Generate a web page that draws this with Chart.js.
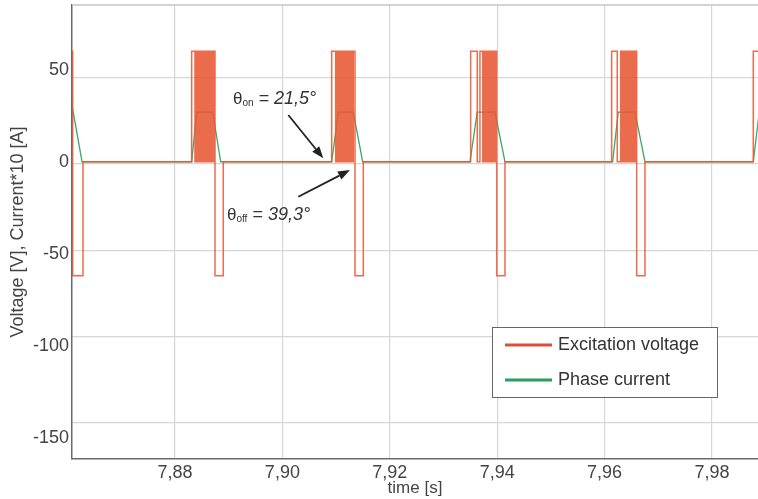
<!DOCTYPE html>
<html>
<head>
<meta charset="utf-8">
<script src="https://cdn.jsdelivr.net/npm/chart.js@4/dist/chart.umd.min.js"></script>
<style>
  html, body { margin: 0; padding: 0; background: #fff; }
  #wrap { width: 758px; height: 499px; }
</style>
</head>
<body>
<div id="wrap"><canvas id="waveChart" width="758" height="499"></canvas></div>
<script>
// axis ranges and ticks
const xMin = 7.86082, xMax = 7.98857;
const yMin = -171, yMax = 92.2;
const xTicks = [7.88, 7.90, 7.92, 7.94, 7.96, 7.98];
const yTicks = [50, 0, -50, -100, -150];

// excitation voltage [V]: levels and switching instants [s]
const vHigh = 60, vLow = -62;
const pulseStart = [7.8600, 7.88311, 7.90918, 7.93506, 7.96132, 7.98769];
const chopTimes = [
    [],
    [7.88372, 7.88386, 7.88399, 7.88415, 7.88428, 7.88443, 7.88457, 7.88470, 7.88486, 7.88499,
     7.88514, 7.88527, 7.88543, 7.88556, 7.88571, 7.88584, 7.88600, 7.88613, 7.88628, 7.88641,
     7.88657, 7.88670, 7.88686, 7.88699, 7.88713, 7.88722],
    [7.90993, 7.91006, 7.91020, 7.91033, 7.91047, 7.91061, 7.91074, 7.91089, 7.91102, 7.91116,
     7.91130, 7.91143, 7.91158, 7.91171, 7.91185, 7.91199, 7.91212, 7.91226, 7.91240, 7.91265,
     7.91279, 7.91292, 7.91306, 7.91320],
    [7.93629, 7.93679, 7.93730, 7.93754, 7.93767, 7.93781, 7.93794, 7.93808, 7.93822, 7.93835,
     7.93849, 7.93862, 7.93876, 7.93890, 7.93903, 7.93917, 7.93930, 7.93944, 7.93958, 7.93971,
     7.93979, 7.93986],
    [7.96236, 7.96300, 7.96318, 7.96331, 7.96345, 7.96358, 7.96372, 7.96386, 7.96399, 7.96413,
     7.96426, 7.96440, 7.96454, 7.96467, 7.96481, 7.96494, 7.96508, 7.96522, 7.96535, 7.96549,
     7.96562, 7.96576, 7.96589, 7.96596],
    []
];
const demagStart = [7.86095, 7.88745, 7.91352, 7.93991, 7.96598];
const demagEnd = [7.86287, 7.88899, 7.91507, 7.94145, 7.96752];

// phase current * 10 [A]
const currentTime = [7.86080, 7.86269,
    7.88311, 7.88404, 7.88702, 7.88851,
    7.90918, 7.91041, 7.91320, 7.91495,
    7.93493, 7.93629, 7.93959, 7.94145,
    7.96150, 7.96255, 7.96566, 7.96752,
    7.98769, 7.98880];
const currentValue = [31, 0,
    0, 27, 27, 0,
    0, 27, 27, 0,
    0, 27, 27, 0,
    0, 27, 27, 0,
    0, 27];

const seriesNames = ['Excitation voltage', 'Phase current'];
const seriesColors = ['rgba(232, 88, 52, 0.88)', 'rgb(62, 168, 104)'];

// build step points for the voltage
const voltagePoints = [];
pulseStart.forEach((t0, i) => {
    voltagePoints.push({ x: t0, y: vHigh });
    chopTimes[i].forEach((t, k) => voltagePoints.push({ x: t, y: k % 2 === 0 ? 0 : vHigh }));
    if (i < demagStart.length) {
        voltagePoints.push({ x: demagStart[i], y: vLow });
        voltagePoints.push({ x: demagEnd[i], y: 0 });
    }
});
voltagePoints.push({ x: xMax + 0.001, y: vHigh });

const currentPoints = currentTime.map((t, i) => ({ x: t, y: currentValue[i] }));

const fontFamily = '"Liberation Sans", Arial, Helvetica, sans-serif';
const textColor = '#444';
const gridColor = '#d6d6d6';

// annotations: angle labels and arrows (data coordinates)
const notes = [
    { sub: 'on', value: ' = 21,5°', x: 7.89080, y: 37.7, from: [7.90110, 28.4], to: [7.90762, 3.3] },
    { sub: 'off', value: ' = 39,3°', x: 7.88968, y: -29.6, from: [7.90296, -19.0], to: [7.91259, -3.5] }
];

function noPad(s) {
    s.paddingTop = 0;
    s.paddingBottom = 0;
    s.paddingLeft = 0;
    s.paddingRight = 0;
}

const decorPlugin = {
    id: 'decor',
    beforeDatasetsDraw(chart) {
        const { ctx, chartArea } = chart;
        ctx.save();
        ctx.strokeStyle = '#c4c4c4';
        ctx.lineWidth = 1.5;
        ctx.beginPath();
        ctx.moveTo(chartArea.left, chartArea.top);
        ctx.lineTo(chartArea.right, chartArea.top);
        ctx.stroke();
        ctx.restore();
    },
    afterDraw(chart) {
        const { ctx } = chart;
        const xs = chart.scales.x, ys = chart.scales.y;
        ctx.save();
        // arrows and angle texts
        notes.forEach(n => {
            const x1 = xs.getPixelForValue(n.from[0]), y1 = ys.getPixelForValue(n.from[1]);
            const x2 = xs.getPixelForValue(n.to[0]), y2 = ys.getPixelForValue(n.to[1]);
            const ang = Math.atan2(y2 - y1, x2 - x1);
            const head = 12, half = 4.5;
            ctx.strokeStyle = '#222';
            ctx.fillStyle = '#222';
            ctx.lineWidth = 1.8;
            ctx.beginPath();
            ctx.moveTo(x1, y1);
            ctx.lineTo(x2 - Math.cos(ang) * head, y2 - Math.sin(ang) * head);
            ctx.stroke();
            ctx.beginPath();
            ctx.moveTo(x2, y2);
            ctx.lineTo(x2 - Math.cos(ang) * head - Math.sin(ang) * half, y2 - Math.sin(ang) * head + Math.cos(ang) * half);
            ctx.lineTo(x2 - Math.cos(ang) * head + Math.sin(ang) * half, y2 - Math.sin(ang) * head - Math.cos(ang) * half);
            ctx.closePath();
            ctx.fill();

            let tx = xs.getPixelForValue(n.x);
            const ty = ys.getPixelForValue(n.y);
            ctx.fillStyle = '#333';
            ctx.textBaseline = 'middle';
            ctx.textAlign = 'left';
            ctx.font = '17px ' + fontFamily;
            ctx.fillText('θ', tx, ty);
            tx += ctx.measureText('θ').width;
            ctx.font = '10px ' + fontFamily;
            ctx.fillText(n.sub, tx, ty + 4);
            tx += ctx.measureText(n.sub).width;
            ctx.font = 'italic 18px ' + fontFamily;
            ctx.fillText(n.value, tx, ty);
        });

        // legend box
        const bx = 492, by = 327, bw = 225, bh = 70;
        ctx.fillStyle = '#fff';
        ctx.fillRect(bx, by, bw, bh);
        ctx.strokeStyle = '#666';
        ctx.lineWidth = 1;
        ctx.strokeRect(bx + 0.5, by + 0.5, bw, bh);
        const legendColors = ['#d9513a', '#2a9d5c'];
        seriesNames.forEach((name, i) => {
            const ly = by + 18 + i * 35;
            ctx.strokeStyle = legendColors[i];
            ctx.lineWidth = 3;
            ctx.beginPath();
            ctx.moveTo(bx + 13, ly);
            ctx.lineTo(bx + 60, ly);
            ctx.stroke();
            ctx.fillStyle = '#333';
            ctx.font = '18px ' + fontFamily;
            ctx.textBaseline = 'middle';
            ctx.fillText(name, bx + 66, ly);
        });
        ctx.restore();
    }
};

const ctx = document.getElementById('waveChart').getContext('2d');
new Chart(ctx, {
    type: 'line',
    data: {
        datasets: [{
            label: seriesNames[0],
            data: voltagePoints,
            borderColor: seriesColors[0],
            borderWidth: 1.5,
            stepped: 'before',
            pointRadius: 0,
            fill: false,
            order: 1
        }, {
            label: seriesNames[1],
            data: currentPoints,
            borderColor: seriesColors[1],
            borderWidth: 1.3,
            tension: 0,
            pointRadius: 0,
            fill: false,
            order: 2
        }]
    },
    options: {
        responsive: false,
        animation: false,
        layout: { padding: { top: 5, left: 0, right: 0, bottom: 0 } },
        plugins: {
            legend: { display: false },
            tooltip: { enabled: false }
        },
        scales: {
            x: {
                type: 'linear',
                min: xMin,
                max: xMax,
                afterBuildTicks: s => { s.ticks = xTicks.map(v => ({ value: v })); },
                afterFit: s => { s.height = 40; noPad(s); },
                grid: { color: gridColor, lineWidth: 1.2, drawTicks: false },
                border: { color: '#6a6a6a', width: 1.5 },
                ticks: {
                    padding: 3,
                    color: textColor,
                    autoSkip: false,
                    maxRotation: 0,
                    font: { size: 18, family: fontFamily },
                    callback: v => v.toFixed(2).replace('.', ',')
                },
                title: {
                    display: true,
                    text: 'time [s]',
                    color: textColor,
                    padding: { top: 0, bottom: 0 },
                    font: { size: 17, family: fontFamily }
                }
            },
            yLabels: {
                position: 'left',
                weight: 1,
                min: -161.6,
                max: 85.2,
                afterBuildTicks: s => { s.ticks = yTicks.map(v => ({ value: v })); },
                afterFit: s => { s.width = 72; noPad(s); },
                grid: { display: false, drawTicks: false },
                border: { display: false },
                ticks: {
                    padding: 3,
                    color: textColor,
                    font: { size: 18, family: fontFamily }
                },
                title: {
                    display: true,
                    text: 'Voltage [V], Current*10 [A]',
                    color: textColor,
                    padding: { top: 7, bottom: 0 },
                    font: { size: 18, family: fontFamily }
                }
            },
            y: {
                position: 'left',
                weight: 0,
                min: yMin,
                max: yMax,
                afterBuildTicks: s => { s.ticks = yTicks.map(v => ({ value: v })); },
                afterFit: s => { s.width = 0; noPad(s); },
                grid: { color: gridColor, lineWidth: 1.2, drawTicks: false },
                border: { color: '#6a6a6a', width: 1.5 },
                ticks: { display: false }
            }
        }
    },
    plugins: [decorPlugin]
});
</script>
</body>
</html>
